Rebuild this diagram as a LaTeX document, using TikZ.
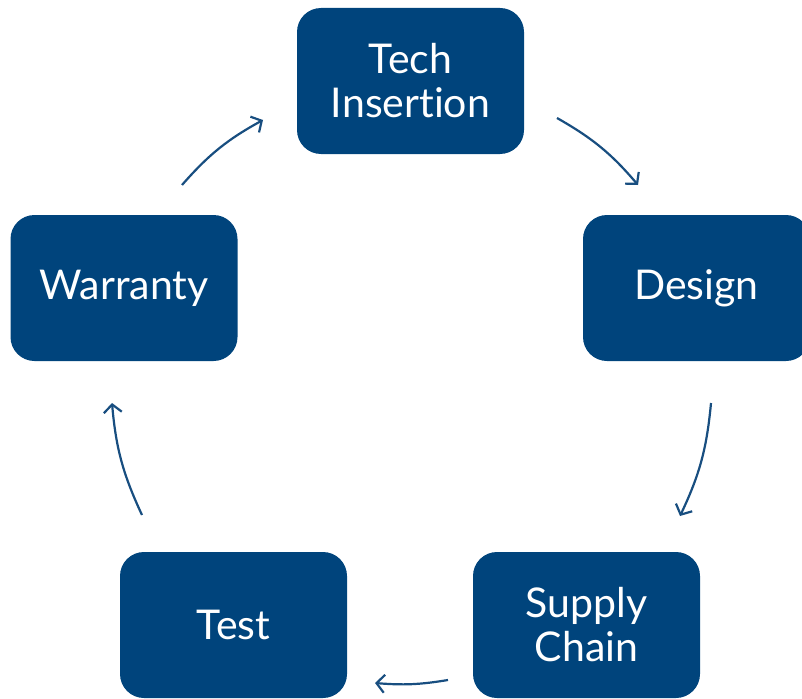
\documentclass[tikz,border=0pt]{standalone}
\usepackage{fontspec}
\setmainfont{Lato}[Ligatures=NoCommon]
\usetikzlibrary{arrows.meta}
\definecolor{boxblue}{RGB}{0,68,124}
\definecolor{arrblue}{RGB}{24,78,128}
\tikzset{
  stage/.style={fill=boxblue, rounded corners=24pt, minimum width=227pt, minimum height=146pt, text=white, align=center, font=\fontsize{41}{44}\selectfont, inner sep=0pt},
  flow/.style={draw=arrblue, line width=2.2pt, -{Straight Barb[length=8pt,width=18pt,line width=2.2pt]}}
}
\begin{document}
\begin{tikzpicture}[x=1pt,y=-1pt]
\useasboundingbox (0,0) rectangle (802,698);
\clip (0,0) rectangle (802,698);
\node[stage] (tech) at (410.5,81) {Tech\\Insertion};
\node[stage] (design) at (696.5,288) {Design};
\node[stage] (warranty) at (124,288) {Warranty};
\node[stage] (test) at (233.5,625) {Test};
\node[stage] (supply) at (586.5,625) {Supply\\Chain};
\coordinate (a1s) at (182,185); \coordinate (a1e) at (263,120);
\coordinate (a2s) at (557,118); \coordinate (a2e) at (638,185);
\coordinate (a3s) at (711,403); \coordinate (a3e) at (680,516);
\coordinate (a4s) at (448,680); \coordinate (a4e) at (375,683);
\coordinate (a5s) at (142,515); \coordinate (a5e) at (112,403);
\draw[flow] (a1s) to[bend left=10] (a1e);
\draw[flow] (a2s) to[bend left=10] (a2e);
\draw[flow] (a3s) to[bend left=10] (a3e);
\draw[flow] (a4s) to[bend left=7] (a4e);
\draw[flow] (a5s) to[bend left=10] (a5e);
\end{tikzpicture}
\end{document}
